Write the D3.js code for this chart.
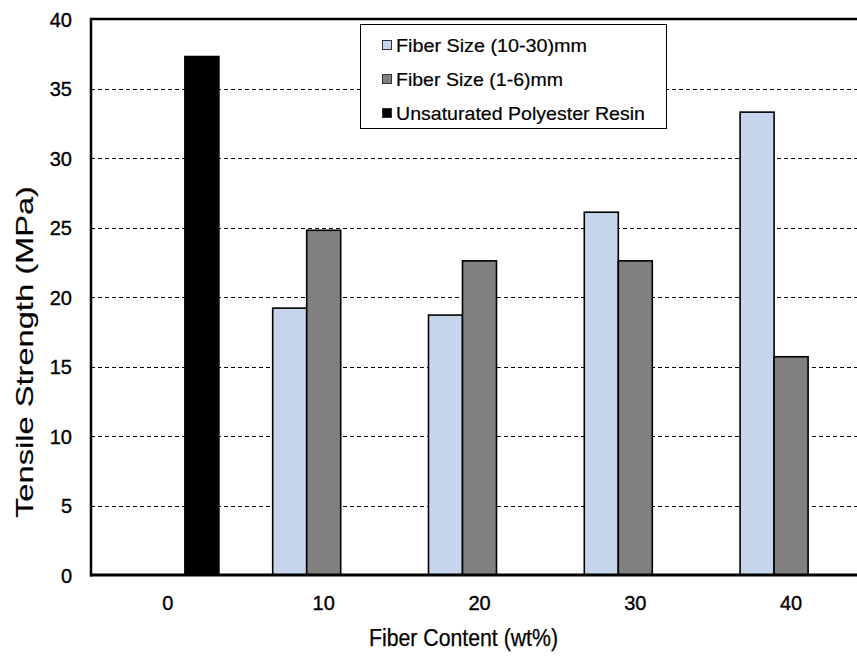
<!DOCTYPE html>
<html>
<head>
<meta charset="utf-8">
<script src="https://cdn.jsdelivr.net/npm/d3@7/dist/d3.min.js"></script>
<style>
  html, body { margin: 0; padding: 0; background: #fff; }
  svg { display: block; font-family: "Liberation Sans", Arial, sans-serif; }
  svg text { fill: #000; stroke: #000; stroke-width: 0.35px; }
</style>
</head>
<body>
<svg id="chart" width="857" height="660"></svg>
<script>
// Tensile strength by fiber content
const categories = ["0", "10", "20", "30", "40"];
const seriesNames = ["Fiber Size (10-30)mm", "Fiber Size (1-6)mm", "Unsaturated Polyester Resin"];
const longFiber = [null, 19.2, 18.7, 26.1, 33.3];
const shortFiber = [null, 24.8, 22.6, 22.6, 15.7];
const resin = [37.3, null, null, null, null];
const yTicks = [0, 5, 10, 15, 20, 25, 30, 35, 40];
const seriesColors = ["#c5d6ec", "#808080", "#000000"];

const seriesValues = [longFiber, shortFiber, resin];

const svg = d3.select("#chart");
const W = 857, H = 660;
const plot = { left: 91, top: 19, right: 869, bottom: 575 };

const x = d3.scaleBand().domain(categories).range([90, 869]).padding(0);
const groupW = 102;
const xs = d3.scaleBand().domain(seriesNames).range([-groupW / 2, groupW / 2]).padding(0);
const y = d3.scaleLinear().domain([0, 40]).range([plot.bottom, plot.top]);

// dashed gridlines
svg.append("g")
  .selectAll("line")
  .data(yTicks.filter(t => t > 0 && t < 40))
  .join("line")
  .attr("x1", plot.left).attr("x2", W)
  .attr("y1", d => Math.round(y(d)) + 0.5).attr("y2", d => Math.round(y(d)) + 0.5)
  .attr("stroke", "#000").attr("stroke-width", 1)
  .attr("stroke-dasharray", "4,3");

// bars
const barData = [];
seriesValues.forEach((vals, si) => {
  vals.forEach((v, ci) => {
    if (v != null) barData.push({ series: seriesNames[si], si, cat: categories[ci], value: v });
  });
});

svg.append("g")
  .selectAll("rect")
  .data(barData)
  .join("rect")
  .attr("x", d => x(d.cat) + x.bandwidth() / 2 + xs(d.series))
  .attr("y", d => y(d.value))
  .attr("width", xs.bandwidth())
  .attr("height", d => y(0) - y(d.value))
  .attr("fill", d => seriesColors[d.si])
  .attr("stroke", "#000")
  .attr("stroke-width", 1.6);

// plot frame: left, top and baseline
svg.append("line").attr("x1", plot.left).attr("x2", plot.left)
  .attr("y1", plot.top - 1).attr("y2", plot.bottom + 1.5)
  .attr("stroke", "#000").attr("stroke-width", 2.5);
svg.append("line").attr("x1", plot.left - 1).attr("x2", W)
  .attr("y1", plot.top).attr("y2", plot.top)
  .attr("stroke", "#000").attr("stroke-width", 2.5);
svg.append("line").attr("x1", plot.left - 1).attr("x2", W)
  .attr("y1", plot.bottom).attr("y2", plot.bottom)
  .attr("stroke", "#000").attr("stroke-width", 3);

// y axis labels
const yAxis = d3.axisLeft(y).tickValues(yTicks).tickSize(0).tickPadding(0);
const gy = svg.append("g").attr("transform", `translate(72,0)`).call(yAxis);
gy.select(".domain").remove();
gy.selectAll("text")
  .attr("font-size", 20)
  .attr("font-family", "Liberation Sans, Arial, sans-serif")
  .attr("dy", "0.36em").attr("x", 0);

// x axis labels
const xAxis = d3.axisBottom(x).tickSize(0).tickPadding(0);
const gx = svg.append("g").attr("transform", `translate(0,610)`).call(xAxis);
gx.select(".domain").remove();
gx.selectAll("text")
  .attr("font-size", 20)
  .attr("font-family", "Liberation Sans, Arial, sans-serif")
  .attr("y", 0).attr("dy", 0);

// axis titles
svg.append("text")
  .attr("x", 369).attr("y", 646)
  .attr("font-size", 23)
  .attr("textLength", 189).attr("lengthAdjust", "spacingAndGlyphs")
  .style("stroke-width", "0.25px")
  .text("Fiber Content (wt%)");

svg.append("text")
  .attr("transform", "translate(33,518) rotate(-90)")
  .attr("x", 0).attr("y", 0)
  .attr("font-size", 24)
  .attr("textLength", 332).attr("lengthAdjust", "spacingAndGlyphs")
  .style("stroke-width", "0.15px")
  .text("Tensile Strength (MPa)");

// legend
const legend = svg.append("g");
legend.append("rect")
  .attr("x", 360.5).attr("y", 24.5).attr("width", 306).attr("height", 104)
  .attr("fill", "#fff").attr("stroke", "#000").attr("stroke-width", 1);

const legendBaselines = [52, 86, 120];
const legendWidths = [191, 167, 249];
seriesNames.forEach((name, i) => {
  legend.append("rect")
    .attr("x", 382.5).attr("y", legendBaselines[i] - 11.5)
    .attr("width", 9).attr("height", 9)
    .attr("fill", seriesColors[i]).attr("stroke", "#333").attr("stroke-width", 1);
  legend.append("text")
    .attr("x", 396).attr("y", legendBaselines[i])
    .attr("font-size", 19)
    .attr("textLength", legendWidths[i]).attr("lengthAdjust", "spacingAndGlyphs")
    .style("stroke-width", "0.2px")
    .text(name);
});
</script>
</body>
</html>
